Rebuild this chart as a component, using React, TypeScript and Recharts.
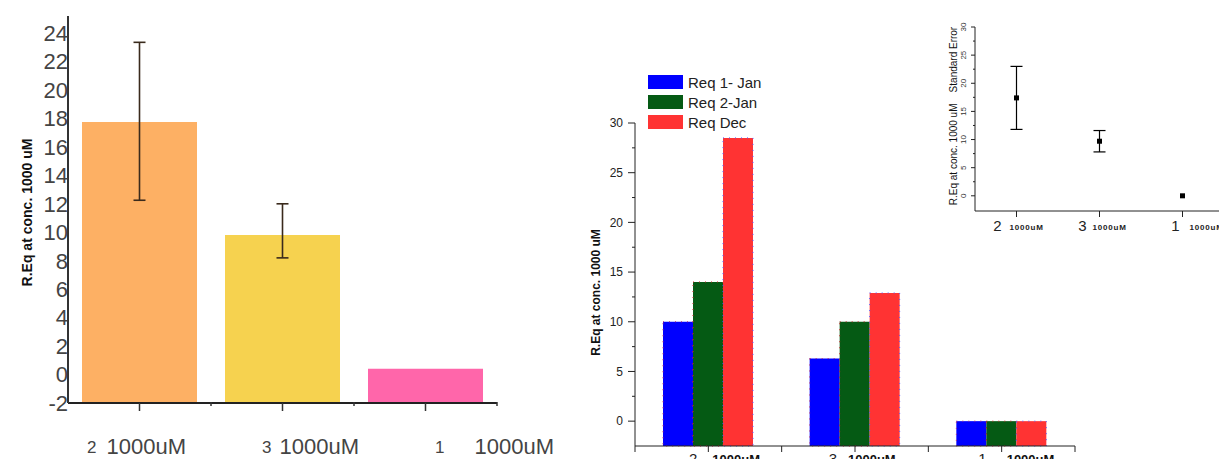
import React from "react";
import { ComposedChart, Bar, Cell, Line, Scatter, XAxis, YAxis, ErrorBar, Legend, Label } from "recharts";

const FONT = "'Liberation Sans', Arial, sans-serif";
const UNIT = "1000uM";

// left bar chart
const LEFT_CATS = ["2", "3", "1"];
const LEFT_VALUES = [17.75, 9.8, 0.4];
const LEFT_ERRORS = [[5.5, 5.6], [1.6, 2.2], null];
const LEFT_TICKS = [-2, 0, 2, 4, 6, 8, 10, 12, 14, 16, 18, 20, 22, 24];
const LEFT_COLORS = ["#fdb064", "#f6d24f", "#ff66aa"];

// grouped bar chart
const GROUP_CATS = ["2", "3", "1"];
const REQ_JAN1 = [10, 6.3, 0];
const REQ_JAN2 = [14, 10, 0];
const REQ_DEC = [28.5, 12.9, 0];
const RIGHT_TICKS = [0, 2.5, 5, 7.5, 10, 12.5, 15, 17.5, 20, 22.5, 25, 27.5, 30];

// inset: mean with standard error
const INSET_CATS = ["2", "3", "1"];
const INSET_MEANS = [17.4, 9.7, 0];
const INSET_SE = [5.6, 1.9, 0];
const INSET_TICKS = [0, 2.5, 5, 7.5, 10, 12.5, 15, 17.5, 20, 22.5, 25, 27.5, 30];

const leftData = LEFT_CATS.map((cat, i) => ({ cat, value: LEFT_VALUES[i], err: LEFT_ERRORS[i] }));
const groupData = GROUP_CATS.map((cat, i) => ({ cat, jan1: REQ_JAN1[i], jan2: REQ_JAN2[i], dec: REQ_DEC[i] }));
const insetData = INSET_CATS.map((cat, i) => ({ cat, mean: INSET_MEANS[i], se: INSET_SE[i] }));

const LEFT_MIN = -2;
const RIGHT_MIN = -2.5;
const INSET_MIN = -2.7;

function LeftXTick(props: any) {
  const { x, y, payload } = props;
  const i = payload.index;
  const half = payload.offset || 71.5;
  const wordAt = [-33, -3, 49][i];
  const numEnd = [-43, -11, 19][i];
  return (
    <g>
      <line x1={x} x2={x} y1={y} y2={y + 8} stroke="#333" strokeWidth={1.5} />
      <line x1={x + half} x2={x + half} y1={y - 1} y2={y + 3} stroke="#333" strokeWidth={1.5} />
      <text x={x + numEnd} y={y + 50} textAnchor="end" fontSize={17} fill="#444" fontFamily={FONT}>
        {payload.value}
      </text>
      <text x={x + wordAt} y={y + 51} fontSize={22} fill="#444" fontFamily={FONT}>
        {UNIT}
      </text>
    </g>
  );
}

function RightXTick(props: any) {
  const { x, y, payload } = props;
  const i = payload.index;
  const half = payload.offset || 73.3;
  const wordAt = [4, -7, 5][i];
  const numEnd = [-11, -18, -15][i];
  return (
    <g>
      <line x1={x} x2={x} y1={y} y2={y + 6} stroke="#222" />
      <line x1={x - half} x2={x - half} y1={y} y2={y + 6} stroke="#222" />
      {i === GROUP_CATS.length - 1 && <line x1={x + half} x2={x + half} y1={y} y2={y + 6} stroke="#222" />}
      <text x={x + numEnd} y={y + 18} textAnchor="end" fontSize={15} fill="#222" fontFamily={FONT}>
        {payload.value}
      </text>
      <text x={x + wordAt} y={y + 18} fontSize={13} fontWeight="bold" fill="#111" fontFamily={FONT}>
        {UNIT}
      </text>
    </g>
  );
}

function RightYTick(props: any) {
  const { x, y, payload } = props;
  const major = payload.value % 5 === 0;
  return (
    <g>
      <line x1={x - (major ? 7 : 3)} x2={x} y1={y} y2={y} stroke="#222" />
      {major && (
        <text x={x - 12} y={y} dy="0.35em" textAnchor="end" fontSize={12} fill="#222" fontFamily={FONT}>
          {payload.value}
        </text>
      )}
    </g>
  );
}

function InsetXTick(props: any) {
  const { x, y, payload } = props;
  const i = payload.index;
  const wordAt = [-7, -7, 7][i];
  const numEnd = [-15, -13, -3][i];
  return (
    <g>
      <line x1={x} x2={x} y1={y} y2={y + 6} stroke="#222" />
      <text x={x + numEnd} y={y + 20} textAnchor="end" fontSize={15} fill="#222" fontFamily={FONT}>
        {payload.value}
      </text>
      <text x={x + wordAt} y={y + 19} fontSize={8} fontWeight="bold" letterSpacing={0.8} fill="#222" fontFamily={FONT}>
        {UNIT}
      </text>
    </g>
  );
}

function InsetYTick(props: any) {
  const { x, y, payload } = props;
  const major = payload.value % 5 === 0;
  return (
    <g>
      <line x1={x - (major ? 4 : 2)} x2={x} y1={y} y2={y} stroke="#222" />
      {major && (
        <text
          x={x - 9}
          y={y}
          textAnchor="middle"
          fontSize={8}
          fill="#333"
          fontFamily={FONT}
          transform={`rotate(-90 ${x - 9} ${y})`}
        >
          {payload.value}
        </text>
      )}
    </g>
  );
}

function Square(props: any) {
  const { cx, cy } = props;
  return <rect x={cx - 2.5} y={cy - 2.5} width={5} height={5} fill="#000" />;
}

function RightLegend(props: any) {
  const { payload } = props;
  return (
    <div style={{ fontFamily: FONT, fontSize: 15, color: "#222" }}>
      {(payload || []).map((p: any) => (
        <div key={p.value} style={{ display: "flex", alignItems: "center", height: 20 }}>
          <span style={{ width: 35, height: 14, background: p.color, marginRight: 5, display: "inline-block" }} />
          <span>{p.value}</span>
        </div>
      ))}
    </div>
  );
}

function vLabel(dx: number, dy: number, size: number, bold: boolean, text: string) {
  return (props: any) => {
    const vb = props.viewBox;
    const lx = vb.x + dx;
    const ly = vb.y + vb.height / 2 + dy;
    return (
      <text
        x={lx}
        y={ly}
        textAnchor="middle"
        dominantBaseline="central"
        fontSize={size}
        fontWeight={bold ? "bold" : "normal"}
        fill="#111"
        fontFamily={FONT}
        style={{ whiteSpace: "pre" }}
        transform={`rotate(-90 ${lx} ${ly})`}
      >
        {text}
      </text>
    );
  };
}

export default function App() {
  return (
    <div style={{ position: "absolute", left: 0, top: 0, width: 1219, height: 459, overflow: "hidden", background: "#fff" }}>
      <div style={{ position: "absolute", left: 0, top: 0 }}>
        <ComposedChart width={560} height={459} data={leftData} margin={{ top: 16, right: 63, bottom: 0, left: 0 }}>
          <XAxis
            dataKey="cat"
            height={56}
            tickSize={0}
            tickMargin={0}
            interval={0}
            axisLine={{ stroke: "#222", strokeWidth: 2 }}
            tickLine={false}
            tick={<LeftXTick />}
          />
          <YAxis
            type="number"
            width={68}
            domain={[LEFT_MIN, 25.2]}
            ticks={LEFT_TICKS}
            interval={0}
            tickSize={0}
            tickMargin={0}
            axisLine={{ stroke: "#333", strokeWidth: 2 }}
            tickLine={false}
            tick={{ fontSize: 22, fill: "#444", fontFamily: FONT }}
          >
            <Label content={vLabel(27, 3, 14, true, "R.Eq at conc. 1000 uM")} />
          </YAxis>
          <Bar dataKey={(d: any) => [LEFT_MIN, d.value]} barSize={115} isAnimationActive={false}>
            {leftData.map((_, i) => (
              <Cell key={i} fill={LEFT_COLORS[i]} />
            ))}
          </Bar>
          <Line dataKey="value" stroke="none" dot={false} activeDot={false} legendType="none" isAnimationActive={false}>
            <ErrorBar dataKey="err" width={6} stroke="#3a2a1c" strokeWidth={1.6} direction="y" />
          </Line>
        </ComposedChart>
      </div>

      <div style={{ position: "absolute", left: 560, top: 0 }}>
        <ComposedChart
          width={540}
          height={480}
          data={groupData}
          margin={{ top: 123, right: 25, bottom: 0, left: 0 }}
          barGap={0}
          barSize={30}
        >
          <XAxis
            dataKey="cat"
            height={34}
            tickSize={0}
            tickMargin={0}
            interval={0}
            axisLine={{ stroke: "#222" }}
            tickLine={false}
            tick={<RightXTick />}
          />
          <YAxis
            type="number"
            width={75}
            domain={[RIGHT_MIN, 30]}
            ticks={RIGHT_TICKS}
            interval={0}
            tickSize={0}
            tickMargin={0}
            axisLine={{ stroke: "#222" }}
            tickLine={false}
            tick={<RightYTick />}
          >
            <Label content={vLabel(36, 8, 12, true, "R.Eq at conc. 1000 uM")} />
          </YAxis>
          <Legend
            layout="vertical"
            align="center"
            verticalAlign="middle"
            wrapperStyle={{ left: 88, top: 72, width: 160 }}
            content={<RightLegend />}
          />
          <Bar
            name="Req 1- Jan"
            dataKey={(d: any) => [RIGHT_MIN, d.jan1]}
            fill="#0000ff"
            stroke="#b03070"
            strokeDasharray="1 5"
            isAnimationActive={false}
          />
          <Bar
            name="Req 2-Jan"
            dataKey={(d: any) => [RIGHT_MIN, d.jan2]}
            fill="#055a14"
            stroke="#c02828"
            strokeDasharray="1 5"
            isAnimationActive={false}
          />
          <Bar
            name="Req Dec"
            dataKey={(d: any) => [RIGHT_MIN, d.dec]}
            fill="#ff3333"
            stroke="#5a5aff"
            strokeDasharray="1 5"
            isAnimationActive={false}
          />
        </ComposedChart>
      </div>

      <div style={{ position: "absolute", left: 900, top: 0 }}>
        <ComposedChart width={324} height={240} data={insetData} margin={{ top: 27, right: 0, bottom: 0, left: 0 }}>
          <XAxis
            dataKey="cat"
            type="category"
            height={29}
            padding={{ left: 41.5, right: 41.5 }}
            tickSize={0}
            tickMargin={0}
            interval={0}
            axisLine={{ stroke: "#222" }}
            tickLine={false}
            tick={<InsetXTick />}
          />
          <YAxis
            type="number"
            width={75}
            domain={[INSET_MIN, 30]}
            ticks={INSET_TICKS}
            interval={0}
            tickSize={0}
            tickMargin={0}
            axisLine={{ stroke: "#222" }}
            tickLine={false}
            tick={<InsetYTick />}
          >
            <Label content={vLabel(53, -3, 10, false, "R.Eq at conc. 1000 uM    Standard Error")} />
          </YAxis>
          <Scatter dataKey="mean" shape={<Square />} isAnimationActive={false}>
            <ErrorBar dataKey="se" width={6} stroke="#000" strokeWidth={1.2} direction="y" />
          </Scatter>
        </ComposedChart>
      </div>
    </div>
  );
}
